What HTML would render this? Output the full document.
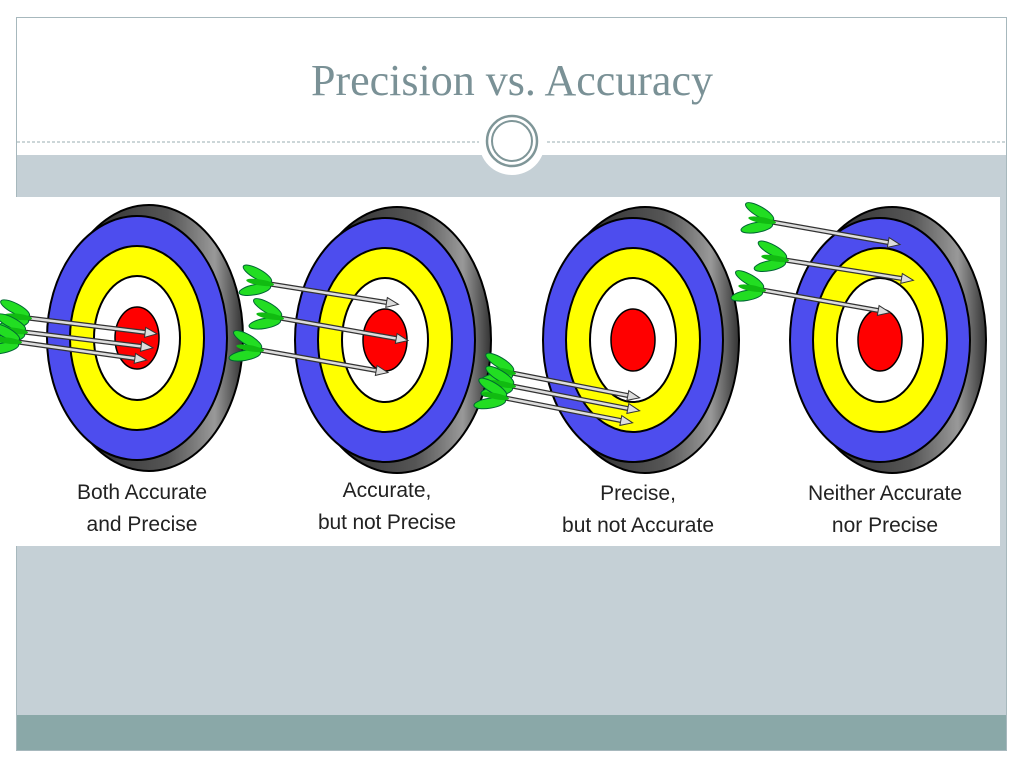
<!DOCTYPE html>
<html><head><meta charset="utf-8"><style>
body{margin:0;width:1024px;height:768px;background:#fff;overflow:hidden;font-family:"Liberation Sans",sans-serif}
</style></head><body>
<svg width="1024" height="768" viewBox="0 0 1024 768" xmlns="http://www.w3.org/2000/svg">
<defs>
<linearGradient id="g" x1="0" y1="0" x2="1" y2="0">
<stop offset="0" stop-color="#222"/><stop offset="0.6" stop-color="#555"/><stop offset="0.85" stop-color="#999"/><stop offset="1" stop-color="#333"/>
</linearGradient>
<g id="a">
<line x1="0" y1="0" x2="122" y2="0" stroke="#333" stroke-width="5"/>
<line x1="0" y1="0" x2="122" y2="0" stroke="#ddd" stroke-width="2.5"/>
<polygon points="118,-5 130,0 118,5" fill="#ddd" stroke="#333" stroke-width="1"/>
<ellipse cx="-14" cy="-8" rx="16" ry="5" fill="#22dd22" stroke="#063" stroke-width="1" transform="rotate(20 -14 -8)"/>
<ellipse cx="-14" cy="8" rx="16" ry="5" fill="#22dd22" stroke="#063" stroke-width="1" transform="rotate(-20 -14 8)"/>
<ellipse cx="-10" cy="0" rx="14" ry="3" fill="#11bb11"/>
</g>
<g id="t">
<ellipse cx="12" cy="0" rx="94" ry="133" fill="url(#g)" stroke="#000" stroke-width="2"/>
<ellipse cx="0" cy="0" rx="90" ry="122" fill="#4d4dee" stroke="#000" stroke-width="2"/>
<ellipse cx="0" cy="0" rx="67" ry="92" fill="#ffff00" stroke="#000" stroke-width="2"/>
<ellipse cx="0" cy="0" rx="43" ry="62" fill="#fff" stroke="#000" stroke-width="2"/>
<ellipse cx="0" cy="0" rx="22" ry="31" fill="#ff0000" stroke="#000" stroke-width="1.5"/>
</g>
</defs>
<rect x="16.5" y="17.5" width="990" height="733" fill="#fff" stroke="#a7b8bd"/>
<text x="512" y="95" text-anchor="middle" font-family="Liberation Serif,serif" font-size="44" fill="#7a9196">Precision vs. Accuracy</text>
<line x1="17" y1="142" x2="1006" y2="142" stroke="#9aacb0" stroke-dasharray="3,2"/>
<rect x="17" y="155" width="989" height="42" fill="#c5d0d6"/>
<rect x="17" y="546" width="989" height="169" fill="#c5d0d6"/>
<rect x="17" y="715" width="989" height="35" fill="#8aa8a8"/>
<rect x="1000" y="197" width="6" height="349" fill="#c5d0d6"/>
<rect x="16" y="197" width="984" height="349" fill="#fff"/>
<circle cx="512" cy="142" r="33" fill="#fff"/>
<circle cx="512" cy="141" r="25" fill="none" stroke="#7f9698" stroke-width="2.5"/>
<circle cx="512" cy="141" r="20" fill="none" stroke="#7f9698" stroke-width="2"/>
<use href="#t" transform="translate(137,338)"/>
<use href="#t" transform="translate(385,340)"/>
<use href="#t" transform="translate(633,340)"/>
<use href="#t" transform="translate(880,340)"/>
<use href="#a" transform="translate(28,318) rotate(7)"/>
<use href="#a" transform="translate(24,332) rotate(7)"/>
<use href="#a" transform="translate(18,342) rotate(8)"/>
<use href="#a" transform="translate(270,284) rotate(9)"/>
<use href="#a" transform="translate(280,318) rotate(10)"/>
<use href="#a" transform="translate(260,350) rotate(10)"/>
<use href="#a" transform="translate(512,373) rotate(11)"/>
<use href="#a" transform="translate(512,386) rotate(11)"/>
<use href="#a" transform="translate(505,398) rotate(11)"/>
<use href="#a" transform="translate(772,222) rotate(10)"/>
<use href="#a" transform="translate(785,260) rotate(9)"/>
<use href="#a" transform="translate(762,290) rotate(10)"/>
<g font-size="21" fill="#222" text-anchor="middle" font-family="Liberation Sans,sans-serif">
<text x="142" y="499" textLength="130">Both Accurate</text>
<text x="142" y="531">and Precise</text>
<text x="387" y="497">Accurate,</text>
<text x="387" y="529" textLength="138">but not Precise</text>
<text x="638" y="500">Precise,</text>
<text x="638" y="532" textLength="152">but not Accurate</text>
<text x="885" y="500" textLength="154">Neither Accurate</text>
<text x="885" y="532">nor Precise</text>
</g>
</svg>
</body></html>
